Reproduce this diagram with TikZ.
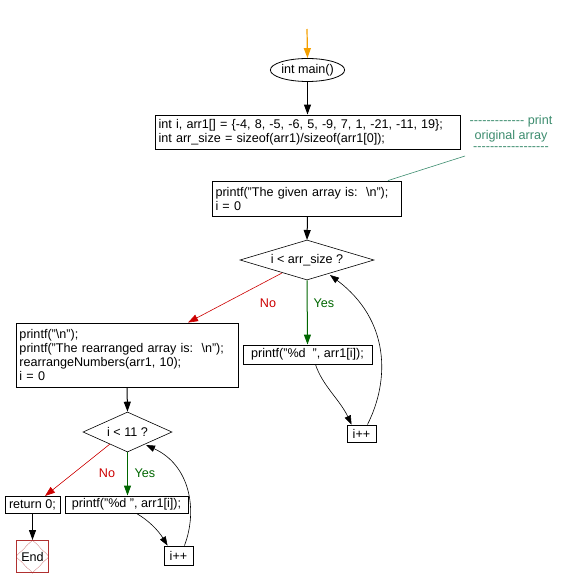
\documentclass[tikz,border=0pt]{standalone}
\usepackage{fontspec}
\setmainfont{Liberation Sans}
\usetikzlibrary{arrows.meta,shapes.geometric,calc}
\definecolor{noc}{HTML}{CC0000}
\definecolor{yesc}{HTML}{006600}
\definecolor{cmt}{HTML}{3C8C6E}
\definecolor{endc}{HTML}{B03030}
\definecolor{startc}{HTML}{F5A000}
\tikzset{
  every node/.style={font=\fontsize{12.6}{14}\selectfont, inner sep=0pt},
  cond/.style={draw, diamond, aspect=3.3, line width=0.6pt, inner sep=1pt},
  arr/.style={-{Triangle[length=10pt,width=7pt]}, line width=1pt},
  thin arr/.style={-{Triangle[length=9pt,width=6.5pt]}, line width=0.6pt},
  lbl/.style={font=\fontsize{12.6}{14}\selectfont},
}
\newcommand\dsh[1]{\foreach \k in {1,...,#1}{-}}
\begin{document}
\begin{tikzpicture}[x=1pt,y=-1pt]
\useasboundingbox (0,0) rectangle (560,588);
% start
\coordinate (s0) at (307,29);
\node[draw, ellipse, line width=0.8pt, minimum width=71pt, minimum height=23pt, inner sep=0pt] (main) at (307.5,70) {int main()};
\draw[-{Triangle[length=10pt,width=7pt]}, line width=1.2pt, startc] (s0) -- (main.north);
% box1
\node[draw, line width=0.9pt, minimum width=305pt, minimum height=34pt, text width=298pt, align=left, inner xsep=3.5pt] (b1) at (307.5,132) {int i, arr1[] = \{-4, 8, -5, -6, 5, -9, 7, 1, -21, -11, 19\};\\int arr\_size = sizeof(arr1)/sizeof(arr1[0]);};
\draw[arr] (main.south) -- (b1.north -| main.south);
% comment
\node[text=cmt, align=center, font=\fontsize{12.6}{14.5}\selectfont] (cm) at (511,133) {\dsh{13} print\\original array\\[-3pt]\dsh{18}};
\coordinate (cmA) at (465,156);
% box2
\node[draw, line width=0.9pt, minimum width=189pt, minimum height=35pt, text width=182pt, align=left, inner xsep=3.5pt] (b2) at (306.5,198.5) {printf("The given array is:~~\textbackslash n");\\i = 0};
\draw[cmt, line width=0.6pt] (cmA) -- (b2.north east -| 388,0);
\draw[arr] (b2.south -| main.south) -- (307,240);
% diamond 1
\node[cond, minimum width=134pt, minimum height=40pt] (d1) at (307,260) {i < arr\_size ?};
% box3
\node[draw, line width=0.9pt, minimum width=129pt, minimum height=19pt] (b3) at (307.5,354.5) {printf("\%d~~", arr1[i]);};
\draw[arr, yesc, line width=1pt] (d1.south) -- (b3.north);
\node[lbl, text=yesc] at (324,303) {Yes};
% i++ 1
\node[draw, line width=0.9pt, minimum width=29pt, minimum height=17pt] (ip1) at (361.5,433.5) {i++};
\draw[thin arr] ($(b3.south)+(8,0)$) .. controls (322,385) and (340,400) .. ($(ip1.north west)+(5,0)$);
\draw[thin arr] ($(ip1.north east)+(-9,0)$) .. controls (390,380) and (390,320) .. (330,275);
% box4
\node[draw, line width=0.9pt, minimum width=222pt, minimum height=64pt, text width=215pt, align=left, inner xsep=3.5pt] (b4) at (127,355) {printf("\textbackslash n");\\printf("The rearranged array is:~~\textbackslash n");\\rearrangeNumbers(arr1, 10);\\i = 0};
\draw[arr, noc, line width=0.6pt] (282,273) -- ($(b4.north)+(61,0)$);
\node[lbl, text=noc] at (268,303) {No};
% diamond 2
\node[cond, minimum width=89pt, minimum height=40pt] (d2) at (127.5,432) {i < 11 ?};
\draw[arr] (b4.south) -- (d2.north);
% return 0
\node[draw, line width=0.9pt, minimum width=55pt, minimum height=17pt] (ret) at (32.5,504.5) {return 0;};
% printf 2
\node[draw, line width=0.9pt, minimum width=123pt, minimum height=17pt] (b5) at (126.5,504.5) {printf("\%d ", arr1[i]);};
\draw[arr, yesc, line width=1pt] (d2.south) -- (b5.north -| d2.south);
\node[lbl, text=yesc] at (145,473) {Yes};
\draw[arr, noc, line width=0.6pt] (110,444) -- (45,496);
\node[lbl, text=noc] at (107,473) {No};
% i++ 2
\node[draw, line width=0.9pt, minimum width=29pt, minimum height=19pt] (ip2) at (178.5,555.5) {i++};
\draw[thin arr] ($(b5.south)+(10,0)$) .. controls (148,520) and (158,530) .. ($(ip2.north west)+(4,0)$);
\draw[thin arr] ($(ip2.north east)+(-9,0)$) .. controls (198,510) and (190,465) .. (146,445);
% End
\node[draw=endc, line width=1pt, minimum width=32pt, minimum height=32pt] (end) at (32.5,556.5) {End};
\draw[endc, line width=0.6pt, densely dotted] (end.north) -- (end.east) -- (end.south) -- (end.west) -- cycle;
\draw[arr] (ret.south) -- (end.north);
\end{tikzpicture}
\end{document}
